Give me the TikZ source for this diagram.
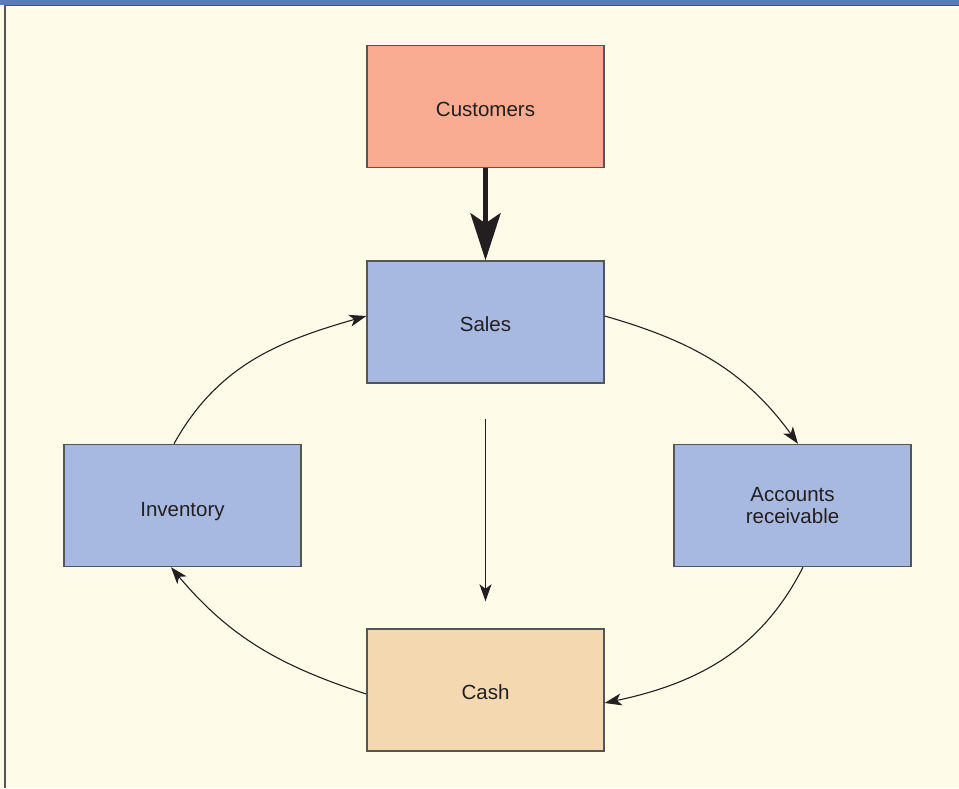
\documentclass[tikz,border=0pt]{standalone}
\usepackage{fontspec}
\setmainfont{Liberation Sans}
\usetikzlibrary{arrows.meta}
\definecolor{bg}{HTML}{FFFBE9}
\definecolor{topbar}{HTML}{5B7BB8}
\definecolor{custc}{HTML}{F9AC92}
\definecolor{bluec}{HTML}{A7B9E0}
\definecolor{cashc}{HTML}{F3D8B0}
\definecolor{edge}{HTML}{555555}
\definecolor{ink}{HTML}{231F20}
\newcommand{\lowered}[2]{\raisebox{-#1}[\height][\depth]{#2}}
\tikzset{
  box/.style={draw=edge, line width=1.4pt, minimum width=237pt, minimum height=122pt,
    inner sep=0pt, align=center, font=\fontsize{20.5}{22.5}\selectfont, text=ink},
  flow/.style={draw=ink, line width=1.1pt, -{Stealth[length=17pt,width=12pt,inset=4.5pt]}},
  bigflow/.style={draw=ink, line width=5.5pt, -{Stealth[length=47pt,width=30pt,inset=10pt]}}
}
\begin{document}
\begin{tikzpicture}[x=1pt,y=-1pt]
\useasboundingbox (0,0) rectangle (959,788);
\fill[bg] (0,0) rectangle (959,788);
\fill[topbar] (0,0) rectangle (959,5);
\draw[edge, line width=1.2pt] (5,788) -- (5,5.5) -- (959,5.5);

\node[box, fill=custc] (cust) at (485.5,106.5) {\lowered{3pt}{Customers}};
\node[box, fill=bluec] (sales) at (485.5,322) {\lowered{2pt}{Sales}};
\node[box, fill=bluec] (inv) at (182.5,505.5) {\lowered{6pt}{Inventory}};
\node[box, fill=bluec] (ar) at (792.5,505.5) {Accounts\\receivable};
\node[box, fill=cashc] (cash) at (485.5,690) {\lowered{2pt}{Cash}};

\draw[bigflow] (cust.south) -- (sales.north);
\draw[flow] ([yshift=-35pt]sales.south) -- ([yshift=27pt]cash.north);
\draw[flow] ([yshift=6pt]sales.east) to[out=-16, in=126] ([xshift=5.5pt]ar.north);
\draw[flow] ([xshift=10.5pt]ar.south) to[out=-117, in=12] ([yshift=-13pt]cash.east);
\draw[flow] ([yshift=-4pt]cash.west) to[out=162, in=-50] ([xshift=-11.5pt]inv.south);
\draw[flow] ([xshift=-8.5pt]inv.north) to[out=61, in=196] ([yshift=6pt]sales.west);
\end{tikzpicture}
\end{document}
